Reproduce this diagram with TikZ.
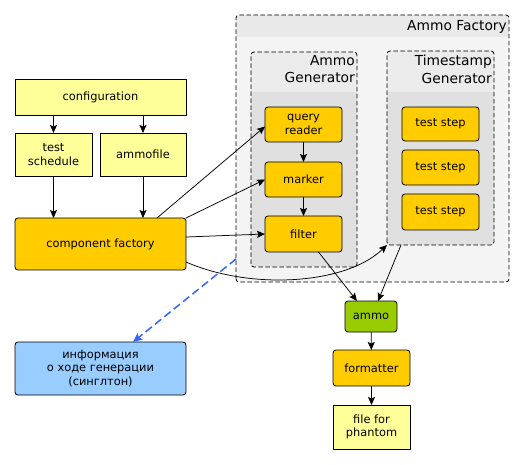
\documentclass[tikz,border=0pt]{standalone}
\usepackage{fontspec}
\setmainfont{DejaVu Sans}
\usetikzlibrary{arrows.meta}
\definecolor{cyel}{HTML}{FFFF99}
\definecolor{corange}{HTML}{FFCC00}
\definecolor{cgreen}{HTML}{99CC00}
\definecolor{cblue}{HTML}{99CCFF}
\definecolor{cdash}{HTML}{3366FF}
\definecolor{gbody}{HTML}{F4F4F4}
\definecolor{ghead}{HTML}{E9E9E9}
\definecolor{ibody}{HTML}{E0E0E0}
\definecolor{ihead}{HTML}{EBEBEB}
\begin{document}
\begin{tikzpicture}[x=1pt,y=-1pt, font=\fontsize{11.4}{13.5}\selectfont,
 box/.style={draw=black, line width=0.8pt, inner sep=0pt, outer sep=0pt, align=center},
 ybox/.style={box, fill=cyel},
 obox/.style={box, fill=corange, rounded corners=3pt},
 arr/.style={-{Stealth[length=8pt,width=7pt,inset=1.5pt]}, line width=0.75pt},
 grp/.style={draw=black, dash pattern=on 4.5pt off 2.5pt, line width=0.75pt, rounded corners=3pt},
 hdr/.style={font=\fontsize{13.8}{17.5}\selectfont, align=right, inner sep=0pt},
]
\useasboundingbox (0,0) rectangle (525,465);

% Ammo Factory group
\node[fill=gbody, rounded corners=3pt, minimum width=273pt, minimum height=267pt, inner sep=0pt, outer sep=0pt] (af) at (372.5,148.5) {};
\begin{scope}
\clip[rounded corners=3pt] (236,15) rectangle (509,282);
\fill[ghead] (236,15) rectangle (509,37);
\end{scope}
\draw[grp] (af.south west) rectangle (af.north east);
\node[hdr, anchor=east] (aft) at (507,27) {Ammo Factory};

% Ammo Generator group
\node[fill=ibody, rounded corners=3pt, minimum width=106pt, minimum height=215pt, inner sep=0pt, outer sep=0pt] (ag) at (304,159.5) {};
\begin{scope}
\clip[rounded corners=3pt] (251,52) rectangle (357,267);
\fill[ihead] (251,52) rectangle (357,92);
\end{scope}
\draw[grp] (ag.south west) rectangle (ag.north east);
\node[hdr, anchor=north east] (agt) at (355,55) {Ammo\\Generator};

% Timestamp Generator group
\node[fill=ibody, rounded corners=3pt, minimum width=107pt, minimum height=194pt, inner sep=0pt, outer sep=0pt] (tg) at (440.5,148) {};
\begin{scope}
\clip[rounded corners=3pt] (387,51) rectangle (494,245);
\fill[ihead] (387,51) rectangle (494,92);
\end{scope}
\draw[grp] (tg.south west) rectangle (tg.north east);
\node[hdr, anchor=north east] (tgt) at (492,55) {Timestamp\\Generator};

% left column
\node[ybox, minimum width=171pt, minimum height=36pt] (conf) at (100.5,97) {configuration};
\node[ybox, minimum width=77pt, minimum height=43pt] (ts) at (53.5,154.5) {test\\schedule};
\node[ybox, minimum width=86pt, minimum height=43pt] (amf) at (143,154.5) {ammofile};
\node[obox, minimum width=171pt, minimum height=52pt] (cf) at (100.5,244) {component factory};
\node[box, fill=cblue, rounded corners=3pt, minimum width=171pt, minimum height=53pt] (info) at (100.5,368.5) {информация\\о ходе генерации\\(синглтон)};

% ammo generator contents
\node[obox, minimum width=77pt, minimum height=35pt] (qr) at (303.5,124.5) {query\\reader};
\node[obox, minimum width=77pt, minimum height=35pt] (mk) at (303.5,179.5) {marker};
\node[obox, minimum width=77pt, minimum height=36pt] (fl) at (303.5,234) {filter};

% timestamp generator contents
\node[obox, minimum width=77pt, minimum height=34pt] (s1) at (440.5,124) {test step};
\node[obox, minimum width=77pt, minimum height=35pt] (s2) at (440.5,167.5) {test step};
\node[obox, minimum width=77pt, minimum height=36pt] (s3) at (440.5,212) {test step};

% output chain
\node[box, fill=cgreen, rounded corners=3pt, minimum width=52pt, minimum height=31pt] (ammo) at (371,316.5) {ammo};
\node[obox, minimum width=77pt, minimum height=36pt] (fmt) at (371.5,368) {formatter};
\node[ybox, minimum width=77pt, minimum height=44pt] (ffp) at (371.5,427) {file for\\phantom};

% connectors
\draw[arr] (ts.north |- conf.south) -- (ts.north);
\draw[arr] (amf.north |- conf.south) -- (amf.north);
\draw[arr] (ts.south) -- (ts.south |- cf.north);
\draw[arr] (amf.south) -- (amf.south |- cf.north);
\draw[arr] ([xshift=-29pt]cf.north east) -- ([yshift=-2pt]qr.west);
\draw[arr] (cf.north east) -- (mk.west);
\draw[arr] ([yshift=7pt]cf.east) -- (fl.west);
\draw[arr] ([yshift=-18pt]cf.east) .. controls (250,290) and (345,285) .. (tg.south west);
\draw[arr] (qr) -- (mk);
\draw[arr] (mk) -- (fl);
\draw[arr] ([xshift=15pt]fl.south) -- ([xshift=-14pt]ammo.north);
\draw[arr] ([xshift=-39.5pt]tg.south) -- ([xshift=7pt]ammo.north);
\draw[arr] (ammo) -- (fmt);
\draw[arr] (fmt) -- (ffp);
\draw[-{Stealth[length=9pt,width=8pt,inset=1.5pt]}, cdash, line width=1.5pt, dash pattern=on 8pt off 4pt] ([yshift=23pt]af.south west) -- ([xshift=32.5pt]info.north);
\end{tikzpicture}
\end{document}
